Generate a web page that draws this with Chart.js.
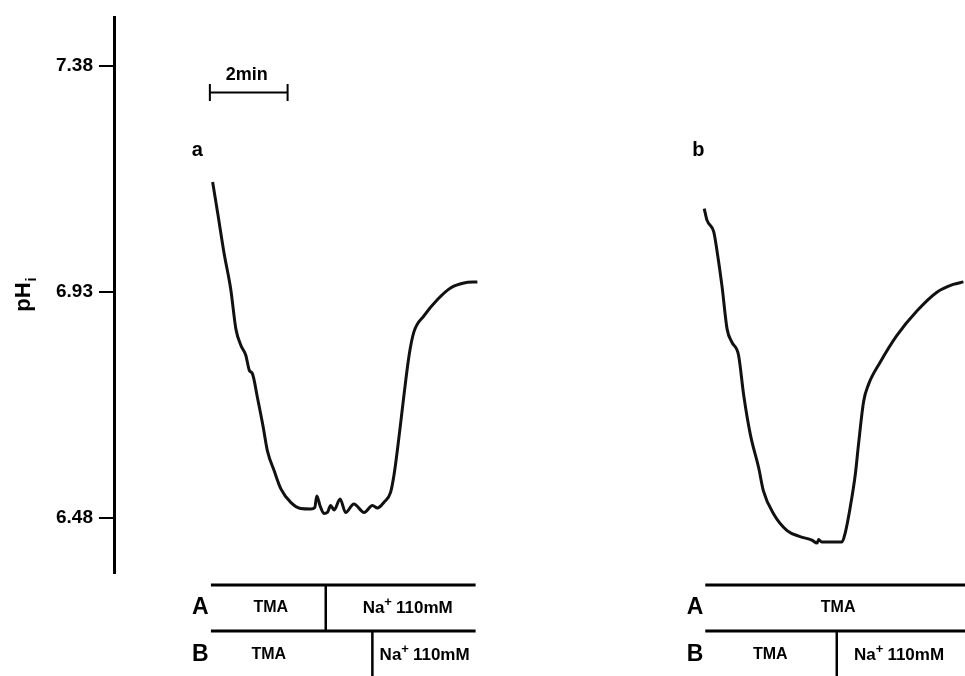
<!DOCTYPE html>
<html lang="en">
<head>
<meta charset="UTF-8">
<title>pHi traces</title>
<script src="https://cdn.jsdelivr.net/npm/chart.js"></script>
<style>
  html, body { margin: 0; padding: 0; background: #fff; }
  #wrap { width: 965px; height: 676px; position: relative; }
</style>
</head>
<body>
<div id="wrap"><canvas id="c"></canvas></div>
<script>
// time in minutes (0 = y axis), pH
const timeA = [2.50, 2.63, 2.79, 2.96, 3.09, 3.22, 3.34, 3.43, 3.51, 3.64, 3.77, 3.89, 4.06, 4.23, 4.48, 4.73, 4.99, 5.09, 5.14, 5.22, 5.32, 5.41, 5.49, 5.58, 5.73, 5.87, 6.08, 6.34, 6.55, 6.68, 6.84, 7.01, 7.10, 7.22, 7.35, 7.48, 7.60, 7.86, 8.20, 8.53, 8.87, 9.21];
const phA   = [7.149, 7.086, 7.007, 6.935, 6.856, 6.823, 6.804, 6.774, 6.767, 6.718, 6.666, 6.613, 6.574, 6.538, 6.511, 6.499, 6.498, 6.501, 6.524, 6.505, 6.489, 6.491, 6.505, 6.496, 6.518, 6.491, 6.508, 6.491, 6.505, 6.500, 6.511, 6.531, 6.567, 6.639, 6.725, 6.804, 6.850, 6.883, 6.915, 6.938, 6.948, 6.950];

const timeB = [14.96, 15.03, 15.20, 15.28, 15.41, 15.54, 15.66, 15.83, 15.96, 16.13, 16.34, 16.46, 16.72, 17.06, 17.39, 17.69, 17.82, 17.86, 17.94, 18.45, 18.53, 18.66, 18.79, 18.87, 19.00, 19.12, 19.42, 19.84, 20.35, 20.85, 21.27, 21.53];
const phB   = [7.096, 7.073, 7.050, 7.014, 6.942, 6.856, 6.830, 6.804, 6.725, 6.646, 6.580, 6.534, 6.488, 6.455, 6.443, 6.436, 6.430, 6.437, 6.432, 6.432, 6.449, 6.501, 6.567, 6.626, 6.712, 6.745, 6.790, 6.843, 6.892, 6.929, 6.945, 6.950];

const yTicks = [7.38, 6.93, 6.48];
const yMin = 6.3705, yMax = 7.4766;
const xMin = 0, xMax = 21.57;

// scale bar
const barStart = 2.43, barEnd = 4.40, barPh = 7.327, barLabel = '2min';

// panels and solution protocol (times in minutes)
const panelNames = ['a', 'b'];
const panelNameTime = [2.11, 14.81];
const panelStart = [2.456, 14.987];
const panelEnd = [9.165, 21.57];
const switchA = [5.367, null];
const switchB = [6.549, 18.32];
const rowNames = ['A', 'B'];
const rowNameTime = [2.19, 14.73];
const rowAText = [[['TMA', 3.975], ['Na+110mM', 7.443]], [['TMA', 18.354]]];
const rowBText = [[['TMA', 3.924], ['Na+110mM', 7.873]], [['TMA', 16.633], ['Na+110mM', 19.899]]];

const FONT = '"Liberation Sans", Arial, Helvetica, sans-serif';

function toPoints(ts, vs) { return ts.map((t, i) => ({ x: t, y: vs[i] })); }

function drawSolution(ctx, txt, cx, cy) {
  if (txt.startsWith('Na+')) {
    const rest = txt.slice(3);
    ctx.font = 'bold 17px ' + FONT;
    const wNa = ctx.measureText('Na').width;
    const wRest = ctx.measureText(rest).width;
    ctx.font = 'bold 13px ' + FONT;
    const wPlus = ctx.measureText('+').width;
    const gap = 4;
    const total = wNa + wPlus + gap + wRest;
    let x = cx - total / 2;
    ctx.textAlign = 'left';
    ctx.font = 'bold 17px ' + FONT;
    ctx.fillText('Na', x, cy);
    x += wNa;
    ctx.font = 'bold 13px ' + FONT;
    ctx.fillText('+', x, cy - 6);
    x += wPlus + gap;
    ctx.font = 'bold 17px ' + FONT;
    ctx.fillText(rest, x, cy);
  } else {
    ctx.textAlign = 'center';
    ctx.font = 'bold 16px ' + FONT;
    ctx.fillText(txt, cx, cy);
  }
}

const overlay = {
  id: 'overlay',
  afterDraw(chart) {
    const ctx = chart.ctx, xs = chart.scales.x, ys = chart.scales.y;
    const bottom = chart.chartArea.bottom;
    ctx.save();
    ctx.fillStyle = '#000';
    ctx.strokeStyle = '#000';
    ctx.textBaseline = 'middle';

    // y title pHi
    ctx.save();
    ctx.translate(24, 295);
    ctx.rotate(-Math.PI / 2);
    ctx.font = 'bold 22px ' + FONT;
    ctx.textAlign = 'left';
    const wPH = ctx.measureText('pH').width;
    ctx.font = 'bold 15px ' + FONT;
    const wI = ctx.measureText('i').width;
    const sx = -(wPH + wI) / 2;
    ctx.font = 'bold 22px ' + FONT;
    ctx.fillText('pH', sx, 0);
    ctx.font = 'bold 15px ' + FONT;
    ctx.fillText('i', sx + wPH + 1, 8);
    ctx.restore();

    // scale bar
    const bx0 = xs.getPixelForValue(barStart), bx1 = xs.getPixelForValue(barEnd);
    const by = ys.getPixelForValue(barPh);
    ctx.lineWidth = 2;
    ctx.beginPath();
    ctx.moveTo(bx0, by); ctx.lineTo(bx1, by);
    ctx.moveTo(bx0, by - 8.5); ctx.lineTo(bx0, by + 8.5);
    ctx.moveTo(bx1, by - 8.5); ctx.lineTo(bx1, by + 8.5);
    ctx.stroke();
    ctx.font = 'bold 18px ' + FONT;
    ctx.textAlign = 'center';
    ctx.fillText(barLabel, (bx0 + bx1) / 2 - 2, by - 18);

    // panel names
    ctx.font = 'bold 20px ' + FONT;
    panelNames.forEach((n, i) => {
      ctx.fillText(n, xs.getPixelForValue(panelNameTime[i]), ys.getPixelForValue(7.212));
    });

    // protocol rows
    const yTop = bottom + 12, yMid = bottom + 58, yEnd = chart.height;
    const yTextA = bottom + 35, yTextB = bottom + 82;
    panelStart.forEach((s, i) => {
      const x0 = xs.getPixelForValue(s), x1 = xs.getPixelForValue(panelEnd[i]);
      ctx.lineWidth = 3;
      ctx.beginPath();
      ctx.moveTo(x0, yTop); ctx.lineTo(x1, yTop);
      ctx.moveTo(x0, yMid); ctx.lineTo(x1, yMid);
      ctx.stroke();
      ctx.lineWidth = 2.5;
      ctx.beginPath();
      if (switchA[i] !== null) {
        const xa = xs.getPixelForValue(switchA[i]);
        ctx.moveTo(xa, yTop); ctx.lineTo(xa, yMid);
      }
      if (switchB[i] !== null) {
        const xb = xs.getPixelForValue(switchB[i]);
        ctx.moveTo(xb, yMid); ctx.lineTo(xb, yEnd);
      }
      ctx.stroke();

      ctx.textAlign = 'center';
      ctx.font = 'bold 23px ' + FONT;
      const rx = xs.getPixelForValue(rowNameTime[i]);
      ctx.fillText(rowNames[0], rx, yTextA);
      ctx.fillText(rowNames[1], rx, yTextB);
      rowAText[i].forEach(([t, tm]) => drawSolution(ctx, t, xs.getPixelForValue(tm), yTextA));
      rowBText[i].forEach(([t, tm]) => drawSolution(ctx, t, xs.getPixelForValue(tm), yTextB));
    });
    ctx.restore();
  }
};

new Chart(document.getElementById('c'), {
  type: 'line',
  data: {
    datasets: [
      { label: 'a', data: toPoints(timeA, phA) },
      { label: 'b', data: toPoints(timeB, phB) }
    ]
  },
  options: {
    responsive: true,
    maintainAspectRatio: false,
    animation: false,
    layout: { padding: { left: 0, right: 0, top: 12, bottom: 103 } },
    elements: {
      point: { radius: 0 },
      line: { borderColor: '#111', borderWidth: 3, tension: 0, cubicInterpolationMode: 'monotone', fill: false }
    },
    plugins: { legend: { display: false }, tooltip: { enabled: false } },
    scales: {
      x: { type: 'linear', min: xMin, max: xMax, display: false },
      y: {
        type: 'linear', min: yMin, max: yMax, position: 'left',
        afterFit(scale) { scale.width = 114; },
        afterBuildTicks(scale) { scale.ticks = yTicks.map(v => ({ value: v })); },
        border: { display: true, color: '#000', width: 3 },
        grid: { drawOnChartArea: false, drawTicks: true, tickLength: 15, color: '#000', lineWidth: 2 },
        ticks: {
          color: '#000', padding: 6,
          font: { family: FONT, size: 19, weight: 'bold' },
          callback: v => v.toFixed(2)
        }
      }
    }
  },
  plugins: [overlay]
});
</script>
</body>
</html>
